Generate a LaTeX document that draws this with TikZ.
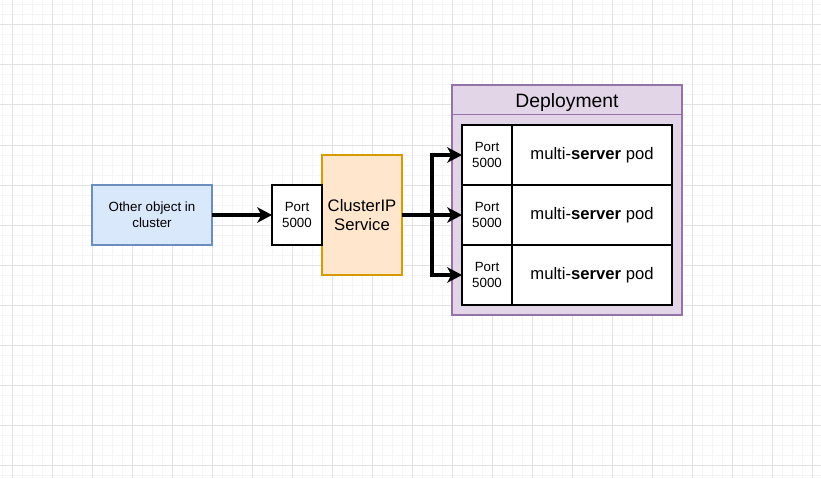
\documentclass[tikz,border=0pt]{standalone}
\usepackage{fontspec}
\setmainfont{Liberation Sans}
\usetikzlibrary{arrows.meta}

\definecolor{objfill}{HTML}{DAE8FC}
\definecolor{objline}{HTML}{6C8EBF}
\definecolor{svcfill}{HTML}{FFE6CC}
\definecolor{svcline}{HTML}{D79B00}
\definecolor{depfill}{HTML}{E1D5E7}
\definecolor{depline}{HTML}{9673A6}
\definecolor{gridmajor}{HTML}{E2E2E2}
\definecolor{gridminor}{HTML}{F5F5F5}

\tikzset{
    box/.style={draw, rectangle, outer sep=0pt, inner sep=0pt, align=center},
    smalltext/.style={font=\fontsize{10}{12}\selectfont},
    objbox/.style={box, fill=objfill, draw=objline, line width=1.2pt,
        minimum width=90pt, minimum height=45pt, smalltext},
    svcbox/.style={box, fill=svcfill, draw=svcline, line width=1.2pt,
        minimum width=60pt, minimum height=90pt, font=\fontsize{12.5}{13.7}\selectfont},
    portbox/.style={box, fill=white, line width=1.5pt,
        minimum width=37.5pt, minimum height=45pt, smalltext},
    podbox/.style={box, fill=white, line width=1.5pt,
        minimum width=120pt, minimum height=45pt, font=\fontsize{12.5}{14}\selectfont},
    deploybox/.style={box, fill=depfill, draw=depline, line width=1.2pt,
        minimum width=172.5pt, minimum height=172.5pt},
    deployhead/.style={box, draw=depline, line width=1.2pt,
        minimum width=172.5pt, minimum height=22pt, font=\fontsize{14.5}{16}\selectfont},
    flow/.style={line width=2.4pt},
    flowtip/.style={flow, -{Stealth[length=11pt, width=11.5pt, inset=3pt]}}
}

\begin{document}
\begin{tikzpicture}[x=0.75pt, y=-0.75pt]
    \useasboundingbox (0,0) rectangle (821,478);
    % background grid
    \foreach \x in {2,12,...,821} \draw[gridminor, line width=0.75pt] (\x,0) -- (\x,478);
    \foreach \y in {5,15,...,478} \draw[gridminor, line width=0.75pt] (0,\y) -- (821,\y);
    \foreach \x in {12,52,...,821} \draw[gridmajor, line width=0.75pt] (\x,0) -- (\x,478);
    \foreach \y in {25,65,...,478} \draw[gridmajor, line width=0.75pt] (0,\y) -- (821,\y);

    \node[objbox] (other) at (152,215) {Other object in\\cluster};
    \node[svcbox] (svc) at (362,215) {ClusterIP\\Service};
    \node[portbox] (svcport) at (297,215) {Port\\5000};

    \node[deploybox] (deploy) at (567,200) {};
    \node[deployhead, anchor=north] (dephead) at (deploy.north) {};
    \node[font=\fontsize{14.5}{16}\selectfont, inner sep=0pt] (deplabel) at ([yshift=-1.8pt]dephead.center) {Deployment};
    \foreach \i/\y in {1/155, 2/215, 3/275} {
        \node[portbox] (port\i) at (487,\y) {Port\\5000};
        \node[podbox, anchor=west] (pod\i) at (port\i.east) {multi-\textbf{server} pod};
    }

    \coordinate (split) at (432,215);
    \draw[flowtip] (other) -- (svcport);
    \draw[flow] (svc) -- (split);
    \foreach \i in {1,2,3}
        \draw[flowtip] (split) |- (port\i.west);
\end{tikzpicture}
\end{document}
